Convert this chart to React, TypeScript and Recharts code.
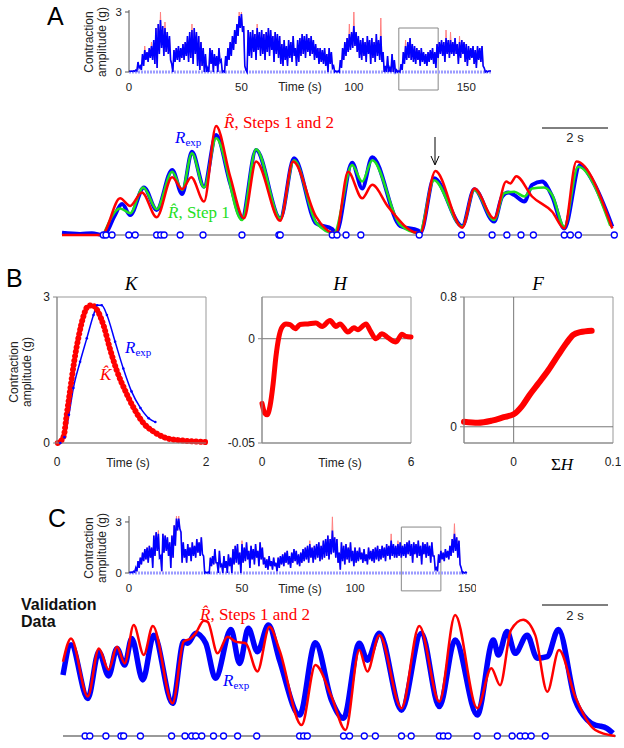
import React from 'react'
import {
  ComposedChart, Line, Scatter, XAxis, YAxis, ReferenceLine, ReferenceArea,
} from 'recharts'

const SANS = 'Arial, "Liberation Sans", sans-serif'
const SERIF = '"Times New Roman", "Liberation Serif", serif'
const BLUE = '#0000ff'
const RED = '#ff0000'
const GREEN = '#1fe01f'
const PINK = '#ff8080'

// Panel A overview, per second: top and bottom of the fast oscillation (g)
const A_HI = [
  0.05, 0.05, 0.06, 0.1, 0.5, 0.3, 0.9, 1.1, 1.0, 1.2,
  1.3, 1.6, 2.2, 2.4, 2.6, 2.3, 2.2, 2.0, 1.8, 0.4,
  1.1, 1.2, 1.3, 1.2, 1.4, 1.5, 1.8, 2.0, 2.1, 2.2,
  2.0, 1.8, 1.5, 1.2, 0.9, 0.2, 1.2, 1.1, 0.9, 0.8,
  1.2, 0.6, 0.05, 0.8, 1.2, 1.5, 1.8, 2.1, 2.4, 2.8,
  2.9, 2.3, 0.1, 2.1, 2.0, 2.1, 1.9, 2.2, 2.0, 2.1,
  1.9, 2.0, 2.2, 2.1, 1.8, 2.0, 1.9, 1.8, 1.4, 1.6,
  1.3, 1.6, 1.5, 1.8, 1.2, 1.6, 1.7, 1.9, 1.8, 1.9,
  1.7, 1.8, 1.6, 1.4, 1.2, 1.2, 1.1, 1.2, 0.9, 1.2,
  1.0, 0.3, 0.05, 0.05, 0.6, 1.2, 1.5, 1.7, 1.9, 2.0,
  2.3, 2.0, 1.8, 1.6, 1.7, 1.5, 1.8, 1.6, 1.7, 1.5,
  1.9, 1.6, 1.8, 1.0, 0.3, 0.8, 0.2, 0.9, 0.6, 0.1,
  0.05, 0.4, 1.0, 1.3, 1.5, 1.7, 1.4, 1.3, 1.2, 1.1,
  1.2, 1.0, 0.9, 1.0, 1.1, 1.2, 1.0, 1.4, 1.5, 1.6,
  1.5, 1.7, 1.6, 1.6, 1.5, 1.7, 1.4, 1.5, 1.6, 1.5,
  1.4, 1.3, 1.2, 1.3, 1.1, 1.3, 1.2, 1.3, 0.2, 0.05,
  0.05, 0.05,
]
const A_LO = [
  0.03, 0.03, 0.04, 0.05, 0.2, 0.1, 0.3, 0.6, 0.5, 0.7,
  0.6, 0.4, 0.2, 0.9, 1.2, 0.8, 1.0, 0.9, 0.6, 0,
  0.5, 0.6, 0.5, 0.7, 0.6, 0.8, 0.5, 0.7, 0.4, 0.9,
  0.3, 0.1, 0.3, 0, 0, 0, 0.4, 0, 0.3, 0,
  0.5, 0, 0, 0.3, 0.6, 0.8, 1.1, 1.4, 1.8, 2.2,
  2.0, 0.3, 0, 0.8, 0.7, 1.0, 0.6, 1.1, 0.8, 0.9,
  0.6, 1.0, 0.8, 1.1, 0.5, 0.9, 0.7, 0.4, 0.3, 0.6,
  0.3, 0.7, 0.5, 0.8, 0.3, 0.5, 0.8, 0.9, 0.7, 1.0,
  0.8, 0.9, 0.6, 0.7, 0.4, 0.5, 0.4, 0.3, 0, 0.4,
  0.2, 0, 0, 0, 0.2, 0.6, 0.8, 1.0, 1.1, 1.2,
  1.3, 1.0, 0.7, 0.6, 0.8, 0.5, 0.9, 0.4, 0.7, 0.5,
  0.8, 0.6, 0.5, 0, 0, 0, 0, 0, 0, 0,
  0, 0.1, 0.4, 0.6, 0.7, 0.6, 0.5, 0.4, 0.6, 0.3,
  0.5, 0.4, 0.3, 0.5, 0.6, 0.4, 0.2, 0.7, 0.9, 0.8,
  0.5, 0.9, 0.7, 0.9, 0.8, 0.9, 0.4, 0.7, 0.9, 0.5,
  0.3, 0.6, 0.7, 0.4, 0.2, 0.6, 0.5, 0.3, 0, 0,
  0, 0,
]
// model overshoots (time s, g) showing above the blue trace
const A_OVERVIEW_RED: [number, number][] = [
  [7, 1.3], [10, 1.5], [14, 3.0], [16, 2.5], [28, 2.4], [49, 3.0], [50, 3.0],
  [57, 2.4], [98, 2.4], [100, 3.0], [112, 2.7], [123, 1.6], [141, 2.1], [143, 2.0], [147, 1.8],
]

// Panel C overview, per second (g)
const C_HI = [
  0.05, 0.05, 0.1, 0.3, 0.7, 0.9, 1.2, 1.4, 1.5, 1.6,
  1.5, 2.2, 2.4, 2.3, 1.0, 2.3, 2.2, 2.1, 1.8, 2.2,
  2.8, 3.2, 3.2, 2.4, 1.8, 1.4, 1.7, 1.5, 1.8, 1.6,
  2.0, 1.8, 2.1, 1.0, 0.05, 0.05, 0.9, 1.0, 1.4, 0.6,
  1.3, 0.5, 1.0, 0.7, 1.1, 0.9, 1.4, 1.6, 1.7, 1.2,
  1.7, 1.5, 1.8, 1.3, 1.6, 1.4, 1.7, 1.3, 1.8, 1.5,
  0.9, 0.8, 1.0, 0.7, 0.9, 0.6, 0.9, 1.0, 1.1, 1.2,
  1.3, 1.0, 1.2, 1.4, 1.3, 1.1, 1.2, 1.4, 1.5, 1.6,
  1.7, 1.5, 1.6, 1.7, 1.8, 1.6, 1.9, 2.0, 2.2, 2.0,
  2.5, 2.1, 2.0, 1.2, 1.8, 1.6, 1.7, 1.5, 1.8, 1.3,
  1.5, 1.3, 1.5, 1.2, 1.4, 1.1, 1.5, 1.3, 1.4, 1.5,
  1.6, 1.4, 1.6, 1.5, 1.7, 1.6, 1.9, 1.7, 1.6, 1.7,
  1.8, 1.6, 1.7, 1.8, 1.9, 1.7, 1.8, 1.7, 1.9, 1.6,
  1.8, 1.7, 1.8, 1.6, 1.8, 1.0, 0.3, 1.1, 1.3, 1.2,
  1.4, 1.3, 1.6, 2.0, 2.3, 2.1, 1.9, 0.3, 0.05, 0.05,
]
const C_LO = [
  0.03, 0.03, 0.05, 0.1, 0.3, 0.5, 0.7, 0.8, 0.6, 0.9,
  0.3, 1.0, 1.3, 0.9, 0.1, 1.2, 1.3, 1.0, 0.3, 0.9,
  1.6, 2.5, 2.6, 0.6, 0.9, 0.6, 1.0, 0.7, 1.0, 0.9,
  1.2, 1.0, 1.1, 0, 0, 0, 0.4, 0.5, 0.6, 0,
  0.4, 0, 0.3, 0, 0.4, 0, 0.5, 0.6, 0.5, 0,
  0.6, 0.7, 0.8, 0.3, 0.8, 0.5, 0.9, 0.4, 0.8, 0.5,
  0.3, 0.2, 0.4, 0.2, 0.4, 0.1, 0.3, 0.5, 0.4, 0.6,
  0.5, 0.3, 0.6, 0.7, 0.5, 0.4, 0.6, 0.7, 0.8, 0.6,
  0.9, 0.6, 0.8, 0.9, 0.7, 0.8, 0.9, 1.0, 0.8, 1.1,
  1.2, 0.9, 0.6, 0.2, 0.7, 0.5, 0.8, 0.6, 0.7, 0.4,
  0.6, 0.7, 0.8, 0.6, 0.7, 0.5, 0.8, 0.7, 0.6, 0.8,
  0.7, 0.8, 0.9, 0.7, 1.0, 0.8, 1.0, 0.9, 0.9, 1.0,
  0.9, 1.0, 0.9, 1.1, 1.0, 0.6, 1.1, 0.9, 1.0, 0.5,
  1.1, 0.9, 1.0, 0.6, 1.0, 0.2, 0.1, 0.6, 0.8, 0.7,
  0.9, 0.8, 1.0, 1.2, 1.3, 0.9, 0.5, 0, 0, 0,
]
const C_OVERVIEW_RED: [number, number][] = [
  [13, 2.5], [21, 3.35], [22, 3.35], [50, 1.9], [80, 1.9], [90, 3.3], [116, 2.3], [119, 1.9], [144, 2.9],
]

// Panel A detail (time s, g)
const A_EXP: [number, number][] = [
  [0, 0.06], [0.54, 0.03], [0.89, 0.05], [1.23, 0], [1.31, 0.05], [1.55, 0.5], [1.79, 0.85],
  [2.03, 0.55], [2.44, 1.31], [2.82, 0.69], [3.28, 1.79], [3.58, 1.13], [3.87, 2.29], [4.23, 1.33],
  [4.59, 2.75], [5.01, 1.42], [5.36, 0.46], [5.78, 2.34], [6.5, 0.46], [6.91, 2.11], [7.57, 0.32],
  [8.05, 0.16], [8.16, 0.05], [8.64, 1.99], [8.94, 1.28], [9.24, 2.14], [10.07, 0.25], [10.61, 0.12],
  [10.67, 0.05], [11.08, 1.56], [11.92, 0.25], [12.28, 1.26], [12.87, 0.37], [13.11, 1.06],
  [13.29, 1.17], [13.47, 1.1], [13.77, 0.92], [14.0, 1.38], [14.3, 1.47], [14.6, 1.06],
  [14.96, 0.18], [15.43, 1.93], [15.79, 1.51], [16.39, 0.23],
]
const A_STEP1: [number, number][] = [
  [1.23, 0], [1.73, 0.73], [2.03, 0.6], [2.42, 1.31], [2.82, 0.71], [3.28, 1.74], [3.58, 1.24],
  [3.87, 2.25], [4.23, 1.31], [4.59, 2.66], [5.36, 0.41], [5.78, 2.36], [6.5, 0.46], [6.91, 2.06],
  [7.57, 0.34], [8.1, 0.05], [8.64, 1.93], [8.94, 1.47], [9.24, 2.06], [10.07, 0.28], [10.64, 0.05],
  [11.08, 1.51], [11.92, 0.23], [12.28, 1.24], [12.87, 0.41], [13.17, 1.15], [13.47, 1.19],
  [13.77, 1.06], [14.0, 1.28], [14.36, 1.31], [14.6, 1.1], [14.96, 0.23], [15.37, 1.88], [16.33, 0.25],
]
const A_STEP12: [number, number][] = [
  [0, 0], [0.54, 0], [1.23, 0], [1.31, 0.14], [1.73, 1.01], [2.03, 0.8], [2.38, 1.17], [2.82, 0.49],
  [3.28, 1.59], [3.58, 1.26], [3.85, 1.59], [4.23, 0.92], [4.59, 3.0], [5.01, 1.61], [5.42, 0.46],
  [5.78, 2.02], [6.5, 0.39], [6.88, 2.02], [7.57, 0.5], [8.05, 0.06], [8.16, 0.05], [8.52, 1.74],
  [8.94, 1.01], [9.24, 1.38], [9.71, 0.78], [10.55, 0.06], [10.67, 0.05], [11.12, 1.76], [11.92, 0.2],
  [12.28, 1.28], [12.87, 0.46], [13.23, 1.47], [13.35, 1.42], [13.53, 1.62], [14.0, 1.06],
  [14.6, 0.64], [14.96, 0.18], [15.32, 2.02], [16.39, 0.18],
]
const A_EVENTS = [
  1.23, 1.31, 1.49, 1.99, 2.18, 2.82, 2.94, 3.04, 3.52, 4.2, 5.36, 6.46, 6.5, 8.05, 8.19, 8.46,
  8.9, 10.64, 11.9, 12.81, 13.25, 13.67, 14.04, 14.96, 15.14, 15.38, 16.45,
]

// Panel B
const K_FIT: [number, number][] = [
  [0.01, 0], [0.045, 0.03], [0.09, 0.14], [0.13, 0.58], [0.18, 1.13], [0.23, 1.67], [0.29, 2.18],
  [0.36, 2.63], [0.41, 2.8], [0.47, 2.83], [0.54, 2.73], [0.63, 2.39], [0.71, 1.94], [0.8, 1.5],
  [0.92, 1.06], [1.03, 0.72], [1.16, 0.41], [1.29, 0.24], [1.47, 0.1], [1.65, 0.055], [1.83, 0.034],
  [2.0, 0.02],
]
const K_EXP: [number, number][] = [
  [0.045, 0], [0.1, 0.12], [0.16, 0.58], [0.22, 1.13], [0.31, 1.67], [0.4, 2.15], [0.49, 2.63],
  [0.54, 2.83], [0.6, 2.83], [0.67, 2.63], [0.78, 2.08], [0.89, 1.53], [1.0, 1.06], [1.12, 0.72],
  [1.23, 0.51], [1.32, 0.43],
]
const H_FN: [number, number][] = [
  [0, -0.031], [0.11, -0.0357], [0.21, -0.0365], [0.32, -0.0325], [0.45, -0.0214], [0.56, -0.0087],
  [0.68, 0.0008], [0.81, 0.0056], [0.97, 0.0071], [1.13, 0.0068], [1.34, 0.0048], [1.53, 0.0068],
  [1.85, 0.0071], [2.17, 0.0075], [2.42, 0.0059], [2.74, 0.0087], [2.98, 0.0059], [3.14, 0.0071],
  [3.46, 0.0032], [3.7, 0.0052], [3.86, 0.0043], [4.19, 0.0071], [4.35, 0.004], [4.59, 0],
  [4.83, 0.0024], [5.07, 0.0005], [5.39, -0.0016], [5.64, 0.0021], [5.8, 0.0011], [6.0, 0.0008],
]
const F_FN: [number, number][] = [
  [-0.05, 0.031], [-0.036, 0.025], [-0.022, 0.038], [-0.01, 0.059], [0, 0.077], [0.008, 0.124],
  [0.016, 0.196], [0.025, 0.268], [0.035, 0.35], [0.045, 0.443], [0.053, 0.515], [0.06, 0.566],
  [0.067, 0.583], [0.0785, 0.592],
]

// Panel C detail (time s, g)
const C_EXP: [number, number][] = [
  [0, 1.51], [0.24, 2.26], [0.74, 0.93], [1.07, 2.09], [1.36, 1.49], [1.61, 2.17], [1.84, 1.76],
  [2.05, 2.42], [2.38, 1.39], [2.71, 2.5], [3.27, 0.81], [3.6, 2.34], [3.72, 2.3], [3.96, 2.55],
  [4.26, 2.3], [4.55, 1.43], [5.01, 2.64], [5.27, 1.8], [5.53, 2.67], [5.8, 2.09], [6.13, 2.75],
  [6.46, 1.88], [7.06, 0.52], [7.53, 2.31], [8.01, 0.89], [8.37, 0.44], [8.84, 2.3], [9.08, 1.88],
  [9.44, 2.55], [10.1, 0.64], [10.69, 2.55], [11.23, 0.73], [11.7, 2.38], [12.36, 0.52],
  [12.84, 2.38], [12.99, 2.01], [13.25, 2.59], [13.49, 2.05], [13.85, 2.5], [14.15, 1.93],
  [14.45, 1.97], [14.78, 2.64], [15.28, 0.89], [15.64, 0.4], [15.88, 0.27], [16.0, 0.25],
  [16.23, 0.19], [16.41, 0.07],
]
const C_STEP12: [number, number][] = [
  [0, 1.84], [0.24, 2.42], [0.74, 0.98], [1.07, 2.17], [1.36, 1.64], [1.61, 2.21], [1.84, 1.8],
  [2.11, 2.75], [2.41, 2.01], [2.68, 2.73], [3.27, 0.81], [3.6, 2.34], [3.81, 2.42], [3.96, 2.55],
  [4.2, 2.86], [4.32, 2.83], [4.61, 2.05], [4.91, 2.46], [5.15, 2.34], [5.45, 2.3], [5.8, 1.6],
  [6.16, 2.71], [6.46, 2.13], [7.12, 0.27], [7.53, 1.76], [8.01, 0.98], [8.43, 0.15], [8.84, 2.13],
  [9.08, 1.6], [9.44, 2.5], [10.1, 0.69], [10.63, 2.73], [11.23, 0.85], [11.7, 3.0], [12.36, 0.69],
  [12.78, 1.68], [13.04, 1.26], [13.37, 2.63], [13.73, 2.88], [14.09, 2.5], [14.45, 1.1],
  [14.8, 2.13], [15.28, 0.98], [15.88, 0.15], [16.47, 0],
]
const C_EVENTS = [
  0.66, 0.8, 1.28, 1.73, 1.81, 2.31, 3.24, 3.64, 3.84, 3.96, 4.14, 4.49, 4.79, 5.21, 5.78, 7.06,
  7.18, 7.29, 8.37, 8.55, 8.99, 9.32, 10.1, 10.39, 11.23, 11.35, 11.49, 12.36, 12.96, 13.4, 13.64,
  13.79, 13.97, 14.39,
]

const pts = (a: [number, number][]) => a.map(([t, v]) => ({ t, v }))
const tickStyle = { fontSize: 12, fill: '#222', fontFamily: SANS }

// interleave the per-second top and bottom values into one dense trace
function denseTrace(hi: number[], lo: number[], xMax: number, peaks: [number, number][] = []) {
  const over = new Map(peaks)
  const out: { t: number; v: number }[] = []
  hi.forEach((h, i) => {
    out.push({ t: i, v: over.get(i) ?? h })
    if (i + 0.5 <= xMax) out.push({ t: i + 0.5, v: lo[i] })
  })
  return out
}

function Overview({ hi, lo, peaks, left, top, plotW, plotH, xMax, yMax, box }: {
  hi: number[]; lo: number[]; peaks: [number, number][]; left: number; top: number
  plotW: number; plotH: number; xMax: number; yMax: number; box: number[]
}) {
  const blue = denseTrace(hi, lo, xMax)
  const red = denseTrace(hi, lo, xMax, peaks)
  return (
    <div style={{ position: 'absolute', left, top }}>
      <ComposedChart width={30 + plotW + 8} height={10 + plotH + 25} margin={{ top: 10, right: 8, bottom: 0, left: 0 }}>
        <XAxis type="number" dataKey="t" domain={[0, xMax]} ticks={[0, 50, 100, 150]} axisLine={false}
          tickLine={false} tickSize={0} tickMargin={11} height={25} tick={{ ...tickStyle, fontSize: 11.5 }} />
        <YAxis type="number" domain={[0, yMax]} ticks={[0, 3]} width={30} tickSize={4} tickMargin={3}
          axisLine={{ stroke: '#555' }} tickLine={{ stroke: '#555' }} tick={{ ...tickStyle, fontSize: 11.5 }} />
        <ReferenceLine y={0} stroke="#9c9cff" strokeWidth={3} strokeDasharray="2 1" />
        <Line data={red} dataKey="v" stroke={PINK} strokeWidth={1} dot={false} activeDot={false} isAnimationActive={false} />
        <Line data={blue} dataKey="v" stroke={BLUE} strokeWidth={1.6} dot={false} activeDot={false} isAnimationActive={false} />
        <ReferenceArea x1={box[0]} x2={box[1]} y1={box[2]} y2={box[3]} fill="none" stroke="#888"
          strokeWidth={1} ifOverflow="visible" />
      </ComposedChart>
    </div>
  )
}

const eventDot = (p: any) => (
  <circle cx={p.cx} cy={p.cy} r={3} fill="#fff" stroke={BLUE} strokeWidth={1.3} />
)

function BPanel({ left, top, yW, xDomain, yDomain, xTicks, yTicks, children }: {
  left: number; top: number; yW: number; xDomain: number[]; yDomain: number[]
  xTicks: number[]; yTicks: number[]; children: React.ReactNode
}) {
  return (
    <div style={{ position: 'absolute', left, top }}>
      <ComposedChart width={yW + 149 + 8} height={10 + 146 + 30} margin={{ top: 10, right: 8, bottom: 0, left: 0 }}>
        <XAxis type="number" dataKey="t" domain={xDomain} ticks={xTicks} axisLine={{ stroke: '#888' }}
          tickLine={false} tickSize={0} tickMargin={14} height={30} tick={tickStyle} />
        <YAxis type="number" domain={yDomain} ticks={yTicks} width={yW} tickSize={4} tickMargin={3}
          axisLine={{ stroke: '#888' }} tickLine={{ stroke: '#888' }} tick={tickStyle} />
        <ReferenceArea x1={xDomain[0]} x2={xDomain[1]} y1={yDomain[0]} y2={yDomain[1]} fill="none" stroke="#999" />
        {children}
      </ComposedChart>
    </div>
  )
}

function RotLabel({ x, y }: { x: number; y: number }) {
  return (
    <g fontFamily={SANS} fontSize={12} fill="#222" textAnchor="middle">
      <text transform={`translate(${x},${y}) rotate(-90)`}>Contraction</text>
      <text transform={`translate(${x + 12.5},${y}) rotate(-90)`}>amplitude (g)</text>
    </g>
  )
}

export default function App() {
  return (
    <div style={{ position: 'absolute', left: 0, top: 0, width: 624, height: 748, background: '#fff', overflow: 'hidden' }}>
      {/* A: overview */}
      <Overview hi={A_HI} lo={A_LO} peaks={A_OVERVIEW_RED} left={99} top={0} plotW={362} plotH={62}
        xMax={160} yMax={3.1} box={[120, 137.5, -0.9, 2.2]} />

      {/* A: zoomed segment */}
      <div style={{ position: 'absolute', left: 57, top: 121 }}>
        <ComposedChart width={564} height={119} margin={{ top: 5, right: 5, bottom: 5, left: 5 }}>
          <XAxis type="number" dataKey="t" domain={[0, 16.5]} hide />
          <YAxis type="number" domain={[0, 3]} hide />
          <ReferenceLine y={0} stroke="#555" strokeWidth={1} />
          <Line data={pts(A_EXP)} dataKey="v" type="monotone" stroke={BLUE} strokeWidth={4} dot={false} activeDot={false} isAnimationActive={false} />
          <Line data={pts(A_STEP1)} dataKey="v" type="monotone" stroke={GREEN} strokeWidth={2.5} dot={false} activeDot={false} isAnimationActive={false} />
          <Line data={pts(A_STEP12)} dataKey="v" type="monotone" stroke={RED} strokeWidth={2.5} dot={false} activeDot={false} isAnimationActive={false} />
          <Scatter data={A_EVENTS.map(t => ({ t, v: 0 }))} dataKey="v" shape={eventDot} isAnimationActive={false} />
        </ComposedChart>
      </div>

      {/* B: K, H, F */}
      <BPanel left={27} top={287} yW={30} xDomain={[0, 2]} yDomain={[0, 3]} xTicks={[0, 2]} yTicks={[0, 3]}>
        <Line data={pts(K_EXP)} dataKey="v" type="monotone" stroke={BLUE} strokeWidth={1.5}
          dot={{ r: 1.3, fill: BLUE, stroke: 'none' }} activeDot={false} isAnimationActive={false} />
        <Line data={pts(K_FIT)} dataKey="v" type="monotone" stroke={RED} strokeWidth={6} strokeLinecap="round"
          strokeDasharray="0.01 4.5" dot={false} activeDot={false} isAnimationActive={false} />
      </BPanel>
      <BPanel left={222} top={287} yW={40} xDomain={[0, 6]} yDomain={[-0.05, 0.02]} xTicks={[0, 6]} yTicks={[-0.05, 0]}>
        <ReferenceLine y={0} stroke="#777" />
        <Line data={pts(H_FN)} dataKey="v" type="monotone" stroke={RED} strokeWidth={5} strokeLinecap="round"
          dot={false} activeDot={false} isAnimationActive={false} />
      </BPanel>
      <BPanel left={434} top={287} yW={30} xDomain={[-0.05, 0.1]} yDomain={[-0.1, 0.8]} xTicks={[0, 0.1]} yTicks={[0, 0.8]}>
        <ReferenceLine y={0} stroke="#777" />
        <ReferenceLine x={0} stroke="#777" />
        <Line data={pts(F_FN)} dataKey="v" type="monotone" stroke={RED} strokeWidth={6} strokeLinecap="round"
          dot={false} activeDot={false} isAnimationActive={false} />
      </BPanel>

      {/* C: overview */}
      <Overview hi={C_HI} lo={C_LO} peaks={C_OVERVIEW_RED} left={99} top={506} plotW={339} plotH={57}
        xMax={150} yMax={3.3} box={[120.5, 138, -1.05, 2.7]} />

      {/* C: validation segment */}
      <div style={{ position: 'absolute', left: 58, top: 610 }}>
        <ComposedChart width={563} height={131} margin={{ top: 5, right: 5, bottom: 5, left: 5 }}>
          <XAxis type="number" dataKey="t" domain={[0, 16.5]} hide />
          <YAxis type="number" domain={[0, 3]} hide />
          <ReferenceLine y={0} stroke="#999" strokeWidth={2} />
          <Line data={pts(C_EXP)} dataKey="v" type="monotone" stroke={BLUE} strokeWidth={5.5} dot={false} activeDot={false} isAnimationActive={false} />
          <Line data={pts(C_STEP12)} dataKey="v" type="monotone" stroke={RED} strokeWidth={2.5} dot={false} activeDot={false} isAnimationActive={false} />
          <Scatter data={C_EVENTS.map(t => ({ t, v: 0 }))} dataKey="v" shape={eventDot} isAnimationActive={false} />
        </ComposedChart>
      </div>

      {/* labels and annotations */}
      <svg width={624} height={748} style={{ position: 'absolute', left: 0, top: 0, pointerEvents: 'none' }}>
        <g fontFamily={SANS} fontSize={25} fill="#000">
          <text x={47} y={25}>A</text>
          <text x={6} y={287}>B</text>
          <text x={48} y={527}>C</text>
        </g>
        <RotLabel x={93} y={42} />
        <RotLabel x={18} y={372} />
        <RotLabel x={93} y={548} />
        <g fontFamily={SANS} fontSize={12} fill="#222" textAnchor="middle">
          <text x={300} y={91}>Time (s)</text>
          <text x={128} y={467}>Time (s)</text>
          <text x={340} y={467}>Time (s)</text>
          <text x={300} y={593}>Time (s)</text>
          <text x={575} y={142} fontSize={13}>2 s</text>
          <text x={575} y={620} fontSize={13}>2 s</text>
        </g>
        <g fontFamily={SANS} fontSize={16} fontWeight="bold" fill="#111">
          <text x={21} y={610}>Validation</text>
          <text x={21} y={627}>Data</text>
        </g>
        <g fontFamily={SERIF} fontSize={19} fontStyle="italic" textAnchor="middle" fill="#000">
          <text x={131} y={290}>K</text>
          <text x={340} y={290}>H</text>
          <text x={538} y={290}>F</text>
        </g>
        <text x={562} y={470} fontFamily={SERIF} fontSize={17} textAnchor="middle">
          Σ<tspan fontStyle="italic">H</tspan>
        </text>

        <g fontFamily={SERIF} fontSize={17}>
          <text x={224} y={128} fill={RED}><tspan fontStyle="italic">R̂</tspan>, Steps 1 and 2</text>
          <text x={175} y={143} fill={BLUE}><tspan fontStyle="italic">R</tspan><tspan fontSize={11} dy={3}>exp</tspan></text>
          <text x={168} y={218} fill={GREEN}><tspan fontStyle="italic">R̂</tspan>, Step 1</text>
          <text x={125} y={353} fill={BLUE}><tspan fontStyle="italic">R</tspan><tspan fontSize={11} dy={3}>exp</tspan></text>
          <text x={100} y={380} fill={RED} fontStyle="italic">K̂</text>
          <text x={200} y={620} fill={RED}><tspan fontStyle="italic">R̂</tspan>, Steps 1 and 2</text>
          <text x={223} y={686} fill={BLUE}><tspan fontStyle="italic">R</tspan><tspan fontSize={11} dy={3}>exp</tspan></text>
        </g>

        <g stroke="#000" strokeWidth={1} fill="none">
          <line x1={542} y1={128} x2={608} y2={128} />
          <line x1={542} y1={605} x2={608} y2={605} />
          <line x1={435} y1={137} x2={435} y2={164} />
          <polyline points="431,156 435,165 439,156" />
        </g>
      </svg>
    </div>
  )
}
